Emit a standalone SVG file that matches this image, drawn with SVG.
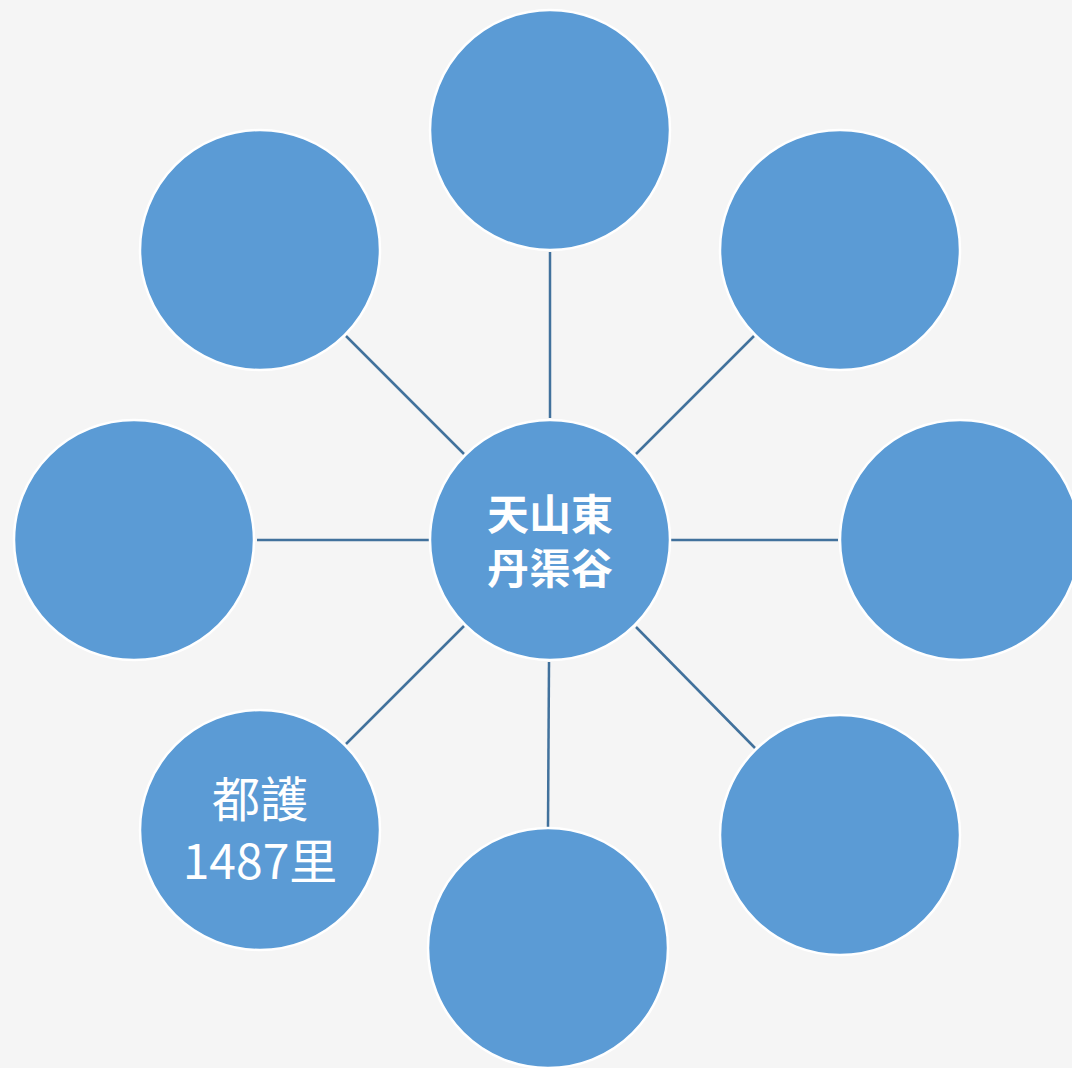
<svg xmlns="http://www.w3.org/2000/svg" width="1072" height="1068" viewBox="0 0 1072 1068">
<style>
.n{fill:#5b9bd5;stroke:#ffffff;stroke-width:2.5}
.c{stroke:#41719c;stroke-width:2.5;fill:none}
.t{fill:#ffffff;font-family:"Noto Sans CJK TC","Noto Sans CJK SC","Noto Sans",sans-serif;text-anchor:middle;dominant-baseline:central}
</style>
<rect width="1072" height="1068" fill="#f5f5f5"/>
<g id="connectors">
<line class="c" x1="550" y1="252" x2="550" y2="418"/>
<line class="c" x1="346" y1="336" x2="464" y2="454"/>
<line class="c" x1="754" y1="336" x2="636" y2="454"/>
<line class="c" x1="257" y1="540" x2="429" y2="540"/>
<line class="c" x1="671" y1="540" x2="838" y2="540"/>
<line class="c" x1="464" y1="626" x2="346" y2="744"/>
<line class="c" x1="549" y1="662" x2="548" y2="827"/>
<line class="c" x1="636" y1="627" x2="755" y2="748"/>
</g>
<g id="node-center"><circle class="n" cx="550" cy="540" r="120"/>
<text class="t" x="550" y="511" font-size="42" font-weight="bold">天山東</text>
<text class="t" x="550" y="565" font-size="42" font-weight="bold">丹渠谷</text></g>
<g id="node-top"><circle class="n" cx="550" cy="130" r="120"/></g>
<g id="node-topleft"><circle class="n" cx="260" cy="250" r="120"/></g>
<g id="node-topright"><circle class="n" cx="840" cy="250" r="120"/></g>
<g id="node-left"><circle class="n" cx="134" cy="540" r="120"/></g>
<g id="node-right"><circle class="n" cx="960" cy="540" r="120"/></g>
<g id="node-bottomleft"><circle class="n" cx="260" cy="830" r="120"/>
<text class="t" x="260" y="796" font-size="48">都護</text>
<text class="t" x="260" y="858" font-size="48">1487里</text></g>
<g id="node-bottom"><circle class="n" cx="548" cy="948" r="120"/></g>
<g id="node-bottomright"><circle class="n" cx="840" cy="835" r="120"/></g>
</svg>
